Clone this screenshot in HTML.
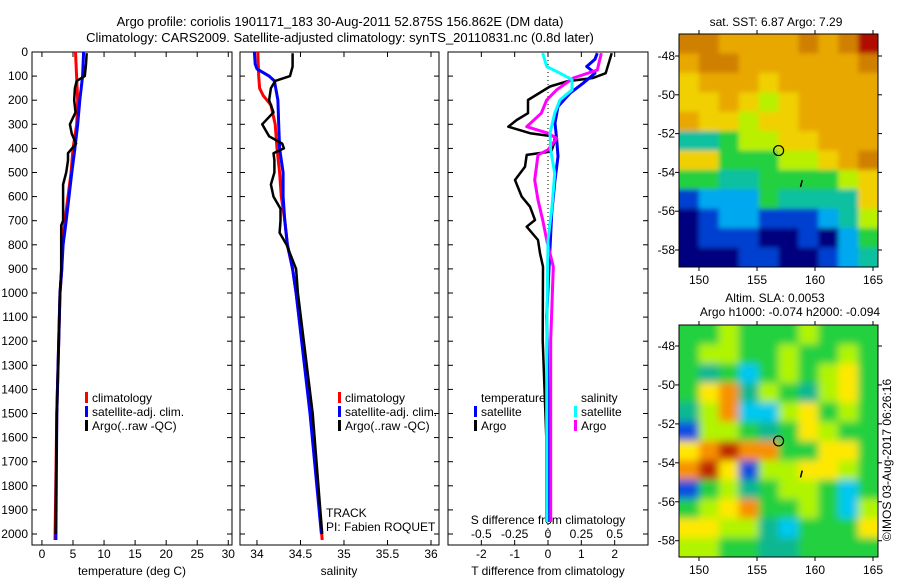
<!DOCTYPE html>
<html><head><meta charset="utf-8"><style>
html,body{margin:0;padding:0;background:#fff;}
svg{display:block;font-family:"Liberation Sans",sans-serif;}
text{font-size:12px;fill:#000;}
</style></head><body>
<svg id="fig" width="900" height="580" viewBox="0 0 900 580">
<defs>
<filter id="blur1" x="-5%" y="-5%" width="110%" height="110%"><feGaussianBlur stdDeviation="2.5"/></filter>
<filter id="blur2" x="-5%" y="-5%" width="110%" height="110%"><feGaussianBlur stdDeviation="4"/></filter>
<clipPath id="clipM1"><rect x="679" y="34" width="199" height="233"/></clipPath>
<clipPath id="clipM2"><rect x="679" y="325" width="199" height="232"/></clipPath>
</defs>
<text x="340" y="26" text-anchor="middle" style="font-size:13px">Argo profile: coriolis 1901171_183 30-Aug-2011 52.875S 156.862E (DM data)</text>
<text x="340" y="42" text-anchor="middle" style="font-size:13px">Climatology: CARS2009. Satellite-adjusted climatology: synTS_20110831.nc (0.8d later)</text>
<g id="g"></g>
</svg>
<script>
// ---- Data ----
const depthTick = [0,100,200,300,400,500,600,700,800,900,1000,1100,1200,1300,1400,1500,1600,1700,1800,1900,2000];
const tempTicks = [0,5,10,15,20,25,30];
const salTicks = [34,34.5,35,35.5,36];
const salTickLabels = ["34","34.5","35","35.5","36"];
const tdTicks = [-2,-1,0,1,2];
const sdTicks = [-0.5,-0.25,0,0.25,0.5];
const sdTickLabels = ["-0.5","-0.25","0","0.25","0.5"];

const tClimD = [0,200,300,400,500,600,700,800,900,1000,1500,2025];
const tClimV = [5.4,5.75,5.6,5.0,4.7,4.2,3.7,3.2,3.2,2.9,2.4,2.1];
const tSatD = [0,100,200,300,400,500,600,700,800,900,1000,1500,2025];
const tSatV = [6.7,6.55,6.1,5.75,5.3,4.8,4.35,3.9,3.4,3.2,2.9,2.4,2.25];
const tArgD = [5,50,100,120,150,200,250,300,340,380,420,450,500,550,600,700,720,800,900,1000,1500,2000];
const tArgV = [7.2,7.1,6.9,5.6,5.3,5.2,5.4,4.5,4.8,5.5,4.2,4.2,3.9,3.4,3.4,3.4,3.1,3.1,3.1,2.9,2.4,2.2];

const sClimD = [0,100,150,180,220,300,400,500,600,700,800,900,1000,1500,2025];
const sClimV = [34.01,34.02,34.03,34.07,34.16,34.21,34.23,34.26,34.28,34.32,34.35,34.41,34.45,34.62,34.75];
const sSatD = [0,50,70,100,120,200,300,400,500,600,700,800,900,1000,1500,2000];
const sSatV = [33.97,33.98,34.0,34.14,34.2,34.24,34.25,34.26,34.3,34.3,34.32,34.35,34.41,34.45,34.61,34.74];
const sArgD = [5,60,100,120,150,200,250,300,350,380,400,420,450,500,550,600,650,700,750,800,900,1000,1500,2000];
const sArgV = [34.41,34.41,34.38,34.21,34.16,34.14,34.19,34.06,34.14,34.29,34.31,34.19,34.2,34.2,34.16,34.19,34.27,34.27,34.26,34.34,34.45,34.47,34.64,34.75];

const dTArgD = [5,88,108,122,143,199,254,282,310,337,351,379,413,427,476,531,600,642,697,725,780,835,891,1195,1600,1950];
const dTArgV = [1.91,1.73,1.35,0.56,0.06,-0.6,-0.6,-0.94,-1.19,-0.54,0.21,0.18,0.1,-0.64,-0.69,-0.99,-0.79,-0.54,-0.39,-0.64,-0.3,-0.24,-0.15,-0.16,-0.05,-0.05];
const dTSatD = [5,30,60,88,130,171,226,295,364,433,531,670,1095,1600,1950];
const dTSatV = [1.48,1.41,1.16,1.41,1.05,0.66,0.3,0.21,0.26,0.3,0.21,0.11,-0.04,0.02,0.05];
const dSArgD = [5,75,108,157,199,254,310,337,358,406,427,531,614,697,780,891,1195,1600,1950];
const dSArgV = [0.40,0.37,0.19,0.065,-0.01,-0.05,-0.16,-0.0,0.065,0.0,-0.075,-0.1,-0.075,-0.04,-0.01,0.04,0.02,0.02,0.02];
const dSSatD = [5,60,88,115,157,199,254,337,406,503,642,780,1195,1600,1950];
const dSSatV = [-0.04,-0.01,0.09,0.18,0.18,0.09,0.05,0.015,0.02,0.05,0.03,0.0,-0.01,-0.01,-0.01];

const sstGrid = [
"8877778789","7887777778","6777677777","6676567777","7665667777","3345566777",
"6644455678","4433444456","1222433336","0122111235","0111001024","0001100123"];
const slaGrid = [
"4454445444","4554454454","4342454564","4673543564","3572256454","1554346544",
"6787744664","7861556654","1453455424","4567445425","6655324446","5544334444"];
const sstColors = ["#00007f","#0040d0","#00a8f0","#10c0a0","#20d040","#b8f000","#f0d000","#e8a800","#d08000","#b01000"];
const slaColors = ["#00008f","#1050e0","#00c8f0","#10b890","#20d040","#b0f400","#ffe800","#f89000","#c02800"];
const latTicks = [-48,-50,-52,-54,-56,-58];
const lonTicks = [150,155,160,165];
const floatLon = 156.862, floatLat = -52.875;

// ---- Drawing ----
const NS="http://www.w3.org/2000/svg";
const G=document.getElementById('g');
function el(tag,attrs,parent,txt){const e=document.createElementNS(NS,tag);for(const k in attrs)e.setAttribute(k,attrs[k]);if(txt!==undefined)e.textContent=txt;(parent||G).appendChild(e);return e;}
const Y0=52,Y1=545,DMAX=(545-52)/0.241;
const yD=d=>Y0+d/DMAX*(Y1-Y0);
function lin(a,b,pa,pb){return v=>pa+(v-a)/(b-a)*(pb-pa);}

function panel(name,x0,x1,xv0,xv1){
  const sx=lin(xv0,xv1,x0,x1);
  const r=el('rect',{x:x0,y:Y0,width:x1-x0,height:Y1-Y0,fill:'none',stroke:'#000','stroke-width':1});
  
  
  depthTick.forEach(d=>{
    const y=yD(d);
    el('line',{x1:x0,y1:y,x2:x0+5,y2:y,stroke:'#000'});
    el('line',{x1:x1,y1:y,x2:x1-5,y2:y,stroke:'#000'});
  });
  return sx;
}
function profile(name,sx,D,V,color,w){
  const pts=D.map((d,i)=>sx(V[i]).toFixed(1)+','+yD(d).toFixed(1)).join(' ');
  const p=el('polyline',{points:pts,fill:'none',stroke:color,'stroke-width':w,'stroke-linejoin':'round'});
  
  
}
function xticks(sx,vals,labels,yb,top){
  vals.forEach((v,i)=>{
    const x=sx(v);
    el('line',{x1:x,y1:Y1,x2:x,y2:Y1-5,stroke:'#000'});
    if(top) el('line',{x1:x,y1:Y0,x2:x,y2:Y0+5,stroke:'#000'});
    const t=el('text',{x:x,y:yb,'text-anchor':'middle'},G,labels[i]);
    
    
  });
}
function legend(x,y,items){
  items.forEach((it,i)=>{
    const yy=y+i*14;
    el('rect',{x:x,y:yy-10,width:3,height:11,fill:it[1]});
    const t=el('text',{x:x+7,y:yy},G,it[0]);
    
    
  });
}

// Panel 1: temperature
const sxT=panel('temperature-panel',32,232,-1.6,30.6);
depthTick.forEach(d=>{const t=el('text',{x:28,y:yD(d)+4,'text-anchor':'end'},G,String(d));
  
  });
xticks(sxT,tempTicks,tempTicks.map(String),558,true);
el('text',{x:132,y:575,'text-anchor':'middle',},G,'temperature (deg C)');
profile('temp-climatology',sxT,tClimD,tClimV,'#ff0000',3);
profile('temp-satellite-adj',sxT,tSatD,tSatV,'#0000ff',3);
profile('temp-argo',sxT,tArgD,tArgV,'#000000',2.5);
legend(85,402,[['climatology','#ff0000'],['satellite-adj. clim.','#0000ff'],['Argo(..raw -QC)','#000000']]);

// Panel 2: salinity
const sxS=panel('salinity-panel',240,439,33.805,36.092);
xticks(sxS,salTicks,salTickLabels,558,true);
el('text',{x:339,y:575,'text-anchor':'middle',},G,'salinity');
profile('sal-climatology',sxS,sClimD,sClimV,'#ff0000',3);
profile('sal-satellite-adj',sxS,sSatD,sSatV,'#0000ff',3);
profile('sal-argo',sxS,sArgD,sArgV,'#000000',2.5);
legend(338,402,[['climatology','#ff0000'],['satellite-adj. clim.','#0000ff'],['Argo(..raw -QC)','#000000']]);
el('text',{x:326,y:517,},G,'TRACK');
el('text',{x:326,y:531,},G,'PI: Fabien ROQUET');

// Panel 3: differences
const sxDT=panel('difference-panel',448,648,-3,3);
const sxDS=lin(-0.75,0.75,448,648);
el('line',{x1:sxDT(0),y1:Y0,x2:sxDT(0),y2:Y1,stroke:'#000','stroke-dasharray':'1,3',});
xticks(sxDT,tdTicks,tdTicks.map(String),558,false);
sdTicks.forEach((v,i)=>{const x=sxDS(v);el('line',{x1:x,y1:Y0,x2:x,y2:Y0+5,stroke:'#000'});
  const t=el('text',{x:x,y:538,'text-anchor':'middle'},G,sdTickLabels[i]);
  
  });
el('text',{x:548,y:524,'text-anchor':'middle',},G,'S difference from climatology');
el('text',{x:548,y:575,'text-anchor':'middle',},G,'T difference from climatology');
profile('t-diff-argo',sxDT,dTArgD,dTArgV,'#000000',2.5);
profile('t-diff-satellite',sxDT,dTSatD,dTSatV,'#0000ff',3);
profile('s-diff-argo',sxDS,dSArgD,dSArgV,'#ff00ff',3);
profile('s-diff-satellite',sxDS,dSSatD,dSSatV,'#00ffff',3);
el('text',{x:481,y:402,},G,'temperature');
el('text',{x:581,y:402,},G,'salinity');
legend(474,416,[['satellite','#0000ff'],['Argo','#000000']]);
legend(574,416,[['satellite','#00ffff'],['Argo','#ff00ff']]);

// Maps
function map(name,grid,colors,x0,y0,w,h,clip,latY48,latY58,blur){
  const g=el('g',{'clip-path':'url(#'+clip+')'});
  
  
  const gb=el('g',{filter:'url(#'+blur+')'},g);
  const rows=grid.length,cols=grid[0].length,cw=w/cols,ch=h/rows;
  el('rect',{x:x0-10,y:y0-10,width:w+20,height:h+20,fill:colors[4]},gb);
  grid.forEach((row,r)=>{[...row].forEach((c,k)=>{
    el('rect',{x:x0+k*cw-(k==0?12:0),y:y0+r*ch-(r==0?12:0),width:cw+(k==0||k==cols-1?12:0)+0.5,height:ch+(r==0||r==rows-1?12:0)+0.5,fill:colors[+c]},gb);
  });});
  el('rect',{x:x0,y:y0,width:w,height:h,fill:'none',stroke:'#000'});
  const ly=lin(-48,-58,latY48,latY58), lx=lin(150,165,699,873);
  latTicks.forEach(l=>{const y=ly(l);
    el('line',{x1:x0,y1:y,x2:x0-4,y2:y,stroke:'#000'});el('line',{x1:x0+w,y1:y,x2:x0+w+4,y2:y,stroke:'#000'});
    const t=el('text',{x:x0-4,y:y+4,'text-anchor':'end'},G,String(l));
    
    });
  lonTicks.forEach(l=>{const x=lx(l);
    el('line',{x1:x,y1:y0,x2:x,y2:y0-4,stroke:'#000'});el('line',{x1:x,y1:y0+h,x2:x,y2:y0+h+4,stroke:'#000'});
    const t=el('text',{x:x,y:y0+h+17,'text-anchor':'middle'},G,String(l));
    
    });
  el('circle',{cx:lx(floatLon),cy:ly(floatLat),r:5,fill:'none',stroke:'#000','stroke-width':1.2,});
  el('line',{x1:lx(158.9),y1:ly(-54.4),x2:lx(158.75),y2:ly(-54.75),stroke:'#000','stroke-width':1.5,});
}
map('sst-map',sstGrid,sstColors,679,34,199,233,'clipM1',56,250,'blur1');
map('sla-map',slaGrid,slaColors,679,325,199,232,'clipM2',346,540.7,'blur2');
el('text',{x:776,y:26,'text-anchor':'middle',},G,'sat. SST: 6.87 Argo: 7.29');
el('text',{x:775,y:302,'text-anchor':'middle',},G,'Altim. SLA: 0.0053');
el('text',{x:790,y:316,'text-anchor':'middle',},G,'Argo h1000: -0.074 h2000: -0.094');
el('text',{x:0,y:0,'text-anchor':'middle',transform:'translate(891,460) rotate(-90)',},G,'©IMOS 03-Aug-2017 06:26:16');
</script>
</body></html>
